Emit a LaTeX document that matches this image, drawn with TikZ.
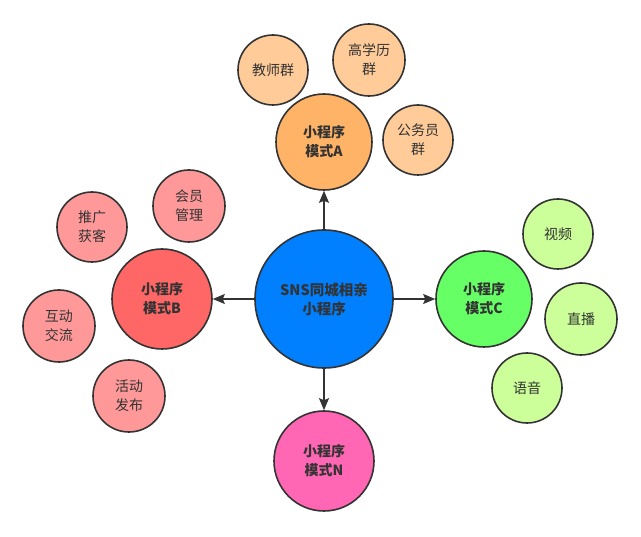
\documentclass[tikz,border=0pt]{standalone}
\usepackage{fontspec}
\setmainfont{Noto Sans CJK SC}
\usetikzlibrary{arrows.meta}

\definecolor{hubblue}{HTML}{007FFF}
\definecolor{modeA}{HTML}{FFB366}
\definecolor{leafA}{HTML}{FFCC99}
\definecolor{modeB}{HTML}{FF6666}
\definecolor{leafB}{HTML}{FF9999}
\definecolor{modeC}{HTML}{66FF66}
\definecolor{leafC}{HTML}{CCFF99}
\definecolor{modeN}{HTML}{FF66B3}
\definecolor{ink}{HTML}{333333}

\begin{document}
\begin{tikzpicture}[
  x=1pt, y=-1pt,
  font=\fontsize{14}{19}\selectfont,
  bubble/.style={
    circle, draw=ink, line width=1.6pt, text=ink,
    inner sep=0pt, align=center
  },
  hub/.style={bubble, fill=hubblue, minimum size=138pt, font=\fontsize{14.5}{19}\selectfont\bfseries},
  mode/.style={bubble, minimum size=96pt, font=\fontsize{14}{19}\selectfont\bfseries},
  leaf/.style={bubble, minimum size=70pt},
  arrow/.style={-{Stealth[length=12pt,width=10pt,inset=2pt]}, ink, line width=1.4pt},
]
\useasboundingbox (0,0) rectangle (641,537);

% Hub in the middle
\node[hub] (hub) at (324,299) {SNS同城相亲\\小程序};

% Four modes around it
\node[mode, fill=modeA] (modea) at (324,142) {小程序\\模式A};
\node[mode, fill=modeB, minimum size=100pt] (modeb) at (162,299) {小程序\\模式B};
\node[mode, fill=modeC] (modec) at (484,299) {小程序\\模式C};
\node[mode, fill=modeN, minimum size=100pt] (moden) at (324,461) {小程序\\模式N};

\draw[arrow] (hub) -- (modea);
\draw[arrow] (hub) -- (modeb);
\draw[arrow] (hub) -- (modec);
\draw[arrow] (hub) -- (moden);

% Leaves of mode A
\node[leaf, fill=leafA] (teacher) at (273,70) {教师群};
\node[leaf, fill=leafA, minimum size=72pt] (degree) at (369,60) {高学历\\群};
\node[leaf, fill=leafA] (civil) at (418,140) {公务员\\群};

% Leaves of mode B
\node[leaf, fill=leafB] (promo) at (92,227) {推广\\获客};
\node[leaf, fill=leafB, minimum size=72pt] (member) at (189,206) {会员\\管理};
\node[leaf, fill=leafB, minimum size=72pt] (chat) at (59,326) {互动\\交流};
\node[leaf, fill=leafB, minimum size=72pt] (event) at (129,396) {活动\\发布};

% Leaves of mode C
\node[leaf, fill=leafC] (video) at (558,234) {视频};
\node[leaf, fill=leafC, minimum size=72pt] (live) at (581,319) {直播};
\node[leaf, fill=leafC] (voice) at (527,388) {语音};

\end{tikzpicture}
\end{document}
